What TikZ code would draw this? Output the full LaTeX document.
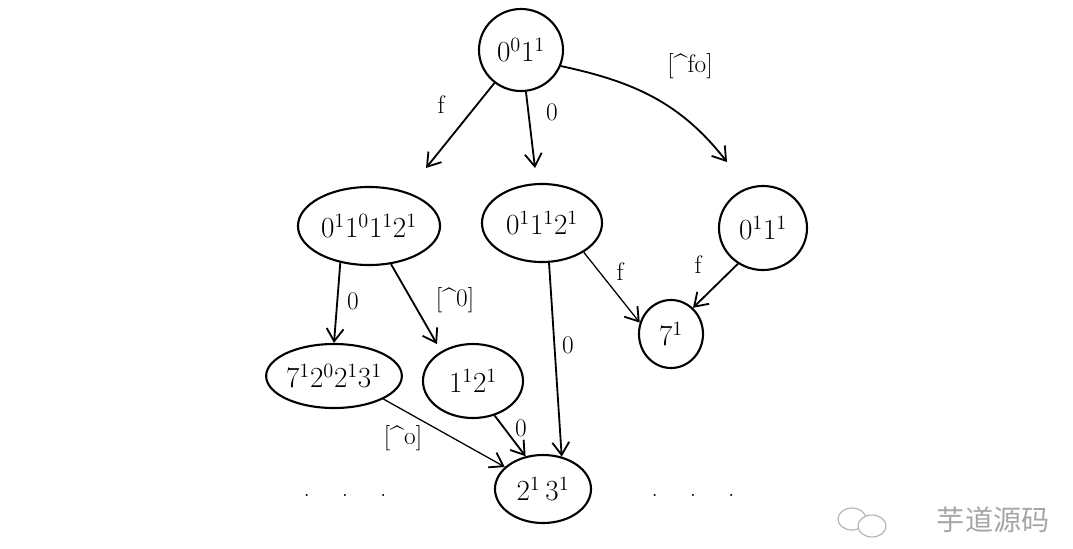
\documentclass[tikz,border=0pt]{standalone}
\usepackage{fontspec}
\newfontfamily\cjk{Noto Sans CJK SC}
\usetikzlibrary{shapes.geometric,arrows.meta}
\begin{document}
\begin{tikzpicture}[x=0.025cm,y=-0.025cm,
  st/.style={draw, ellipse, line width=1.5pt, inner sep=0pt, font=\fontsize{20}{24}\selectfont},
  ed/.style={line width=1.3pt, -{Straight Barb[length=9pt,width=12pt,line width=1.3pt]}},
  thin ed/.style={line width=0.9pt, -{Straight Barb[length=9pt,width=12pt,line width=1.3pt]}},
  lb/.style={font=\fontsize{18}{22}\selectfont}]
\useasboundingbox[fill=white] (0,0) rectangle (1073,548);
\node[st, minimum width=2.1cm, minimum height=2.05cm] (A) at (521,50) {$0^0 1^1$};
\node[st, minimum width=3.55cm, minimum height=1.95cm] (B) at (369,226) {$0^1 1^0 1^1 2^1$};
\node[st, minimum width=3.0cm, minimum height=1.95cm] (C) at (542,223) {$0^1 1^1 2^1$};
\node[st, minimum width=2.2cm, minimum height=2.1cm] (D) at (763,228) {$0^1 1^1$};
\node[st, minimum width=1.6cm, minimum height=1.7cm] (E) at (671,334) {$7^1$};
\node[st, minimum width=3.2cm, minimum height=1.6cm] (F) at (334,376) {$7^1 2^0 2^1 3^1$};
\node[st, minimum width=2.5cm, minimum height=1.85cm] (G) at (473,381) {$1^1 2^1$};
\node[st, minimum width=2.4cm, minimum height=1.7cm] (H) at (543,489) {$2^1\,3^1$};
\coordinate (Dt) at (727,162);
\draw[ed] (A) -- (426,168) coordinate (Bt);
\draw[ed] (A) -- (535,168) coordinate (Ct);
\draw[ed] (A.-22) to[out=-12,in=128] (Dt);
\draw[ed] (B.232) -- (F.90);
\draw[ed] (B.-60) -- (437,344) coordinate (Gt);
\draw[ed] (C.280) -- (H.60);
\draw[thin ed] (C.-35) -- (E.160);
\draw[ed] (D.235) -- (E.50);
\draw[thin ed] (F.-25) -- (H.150);
\draw[ed] (G.-58) -- (H.118);
\node[lb] (l1) at (441,105) {f};
\node[lb] (l2) at (552,112) {0};
\node[lb] (l3) at (690,66) {[\textasciicircum fo]};
\node[lb] (l4) at (353,301) {0};
\node[lb] (l5) at (455,300) {[\textasciicircum 0]};
\node[lb] (l6) at (568,345) {0};
\node[lb] (l7) at (620,272) {f};
\node[lb] (l8) at (698,265) {f};
\node[lb] (l9) at (403,438) {[\textasciicircum o]};
\node[lb] (l10) at (521,428) {0};
\node[font=\fontsize{18}{22}\selectfont] (dl) at (345,495) {.\hspace{0.8cm}.\hspace{0.8cm}.};
\node[font=\fontsize{18}{22}\selectfont] (dr) at (693,495) {.\hspace{0.8cm}.\hspace{0.8cm}.};
\draw[gray!60, line width=0.8pt] (852,519) ellipse [x radius=14, y radius=11];
\draw[gray!60, line width=0.8pt, fill=white] (872,526) ellipse [x radius=14, y radius=11];
\node[gray!70, font=\cjk\fontsize{20}{24}\selectfont, anchor=west] (wm) at (932,520) {芋道源码};
\end{tikzpicture}
\end{document}
